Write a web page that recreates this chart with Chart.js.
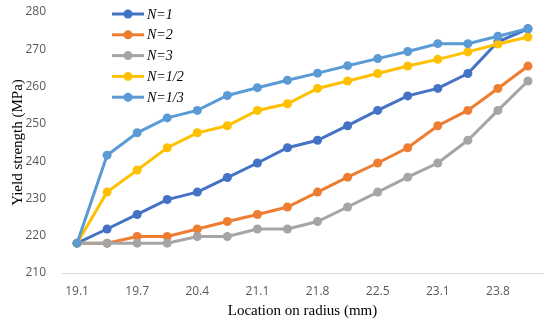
<!DOCTYPE html>
<html>
<head>
<meta charset="utf-8">
<script src="https://cdn.jsdelivr.net/npm/chart.js@4"></script>
<style>
  html, body { margin: 0; padding: 0; background: #ffffff; }
  #caja { width: 550px; height: 324px; position: relative; }
</style>
</head>
<body>
<div id="caja"><canvas id="grafica"></canvas></div>
<script>
// Posición sobre el radio (mm) — solo se rotula una de cada dos
const ubicaciones = ['19.1', '19.4', '19.7', '20.1', '20.4', '20.7', '21.1', '21.4',
                     '21.8', '22.1', '22.5', '22.8', '23.1', '23.5', '23.8', '24.1'];

// Límite elástico (MPa) por serie
const serieN1   = [218, 221.8, 225.7, 229.7, 231.7, 235.6, 239.5, 243.6, 245.6, 249.5, 253.6, 257.5, 259.5, 263.5, 272, 275.5];
const serieN2   = [218, 218, 219.8, 219.8, 221.8, 223.8, 225.7, 227.7, 231.7, 235.7, 239.5, 243.6, 249.5, 253.6, 259.5, 265.5];
const serieN3   = [218, 218, 218, 218, 219.8, 219.8, 221.8, 221.8, 223.8, 227.7, 231.7, 235.7, 239.5, 245.6, 253.6, 261.5];
const serieN1_2 = [218, 231.7, 237.6, 243.6, 247.6, 249.5, 253.6, 255.4, 259.5, 261.5, 263.5, 265.5, 267.3, 269.3, 271.4, 273.3];
const serieN1_3 = [218, 241.6, 247.6, 251.6, 253.6, 257.6, 259.7, 261.7, 263.6, 265.6, 267.5, 269.4, 271.5, 271.5, 273.5, 275.5];

const etiquetasSerie = ['N=1', 'N=2', 'N=3', 'N=1/2', 'N=1/3'];
const coloresSerie = ['#4472C4', '#ED7D31', '#A5A5A5', '#FFC000', '#5B9BD5'];

const ticksY = { min: 210, max: 280, paso: 10 };

function crearSerie(i, datos) {
  return {
    label: etiquetasSerie[i],
    data: datos,
    borderColor: coloresSerie[i],
    backgroundColor: coloresSerie[i],
    borderWidth: 3,
    pointRadius: 4.5,
    pointHoverRadius: 5,
    pointBorderWidth: 0,
    tension: 0,
    fill: false,
    order: 5 - i
  };
}

// Leyenda dentro del área, arriba a la izquierda
const leyendaInterna = {
  id: 'leyendaInterna',
  afterDraw(chart) {
    const ctx = chart.ctx;
    const x0 = 112, x1 = 144, y0 = 14, dy = 20.8;
    ctx.save();
    chart.data.datasets.forEach((ds, i) => {
      const y = y0 + i * dy;
      ctx.strokeStyle = ds.borderColor;
      ctx.lineWidth = 3;
      ctx.beginPath();
      ctx.moveTo(x0, y);
      ctx.lineTo(x1, y);
      ctx.stroke();
      ctx.fillStyle = ds.borderColor;
      ctx.beginPath();
      ctx.arc((x0 + x1) / 2, y, 4.5, 0, Math.PI * 2);
      ctx.fill();
      ctx.fillStyle = '#000000';
      ctx.font = 'italic 14px "Liberation Serif"';
      ctx.textBaseline = 'middle';
      ctx.textAlign = 'left';
      ctx.fillText(ds.label, x1 + 3, y + 1);
    });
    ctx.restore();
  }
};

new Chart(document.getElementById('grafica'), {
  type: 'line',
  data: {
    labels: ubicaciones,
    datasets: [
      crearSerie(0, serieN1),
      crearSerie(1, serieN2),
      crearSerie(2, serieN3),
      crearSerie(3, serieN1_2),
      crearSerie(4, serieN1_3)
    ]
  },
  options: {
    responsive: true,
    maintainAspectRatio: false,
    animation: false,
    layout: { padding: { top: 12, right: 7, bottom: 4, left: 9 } },
    plugins: {
      legend: { display: false },
      tooltip: { enabled: false }
    },
    scales: {
      x: {
        offset: true,
        grid: { display: false, drawTicks: false },
        border: { display: true, color: '#D9D9D9', width: 1 },
        ticks: {
          autoSkip: false,
          maxRotation: 0,
          padding: 11,
          color: '#595959',
          font: { family: 'Open Sans', size: 12 },
          callback: (valor, idx) => idx % 2 === 0 ? ubicaciones[idx] : ''
        },
        title: {
          display: true,
          text: 'Location on radius (mm)',
          color: '#000000',
          font: { family: 'Liberation Serif', size: 15 },
          padding: { top: 1, bottom: 0 }
        },
        afterFit: (escala) => { escala.height = 47; }
      },
      y: {
        min: ticksY.min,
        max: ticksY.max,
        grid: { display: false, drawTicks: false },
        border: { display: false },
        ticks: {
          stepSize: ticksY.paso,
          padding: 16,
          color: '#595959',
          font: { family: 'Open Sans', size: 12 }
        },
        title: {
          display: true,
          text: 'Yield strength (MPa)',
          color: '#000000',
          font: { family: 'Liberation Serif', size: 15 },
          padding: { top: 0, bottom: 0 }
        },
        afterFit: (escala) => {
          escala.width = 53;
          escala.paddingTop = 0;
          escala.paddingBottom = 0;
        }
      }
    }
  },
  plugins: [leyendaInterna]
});
</script>
</body>
</html>
